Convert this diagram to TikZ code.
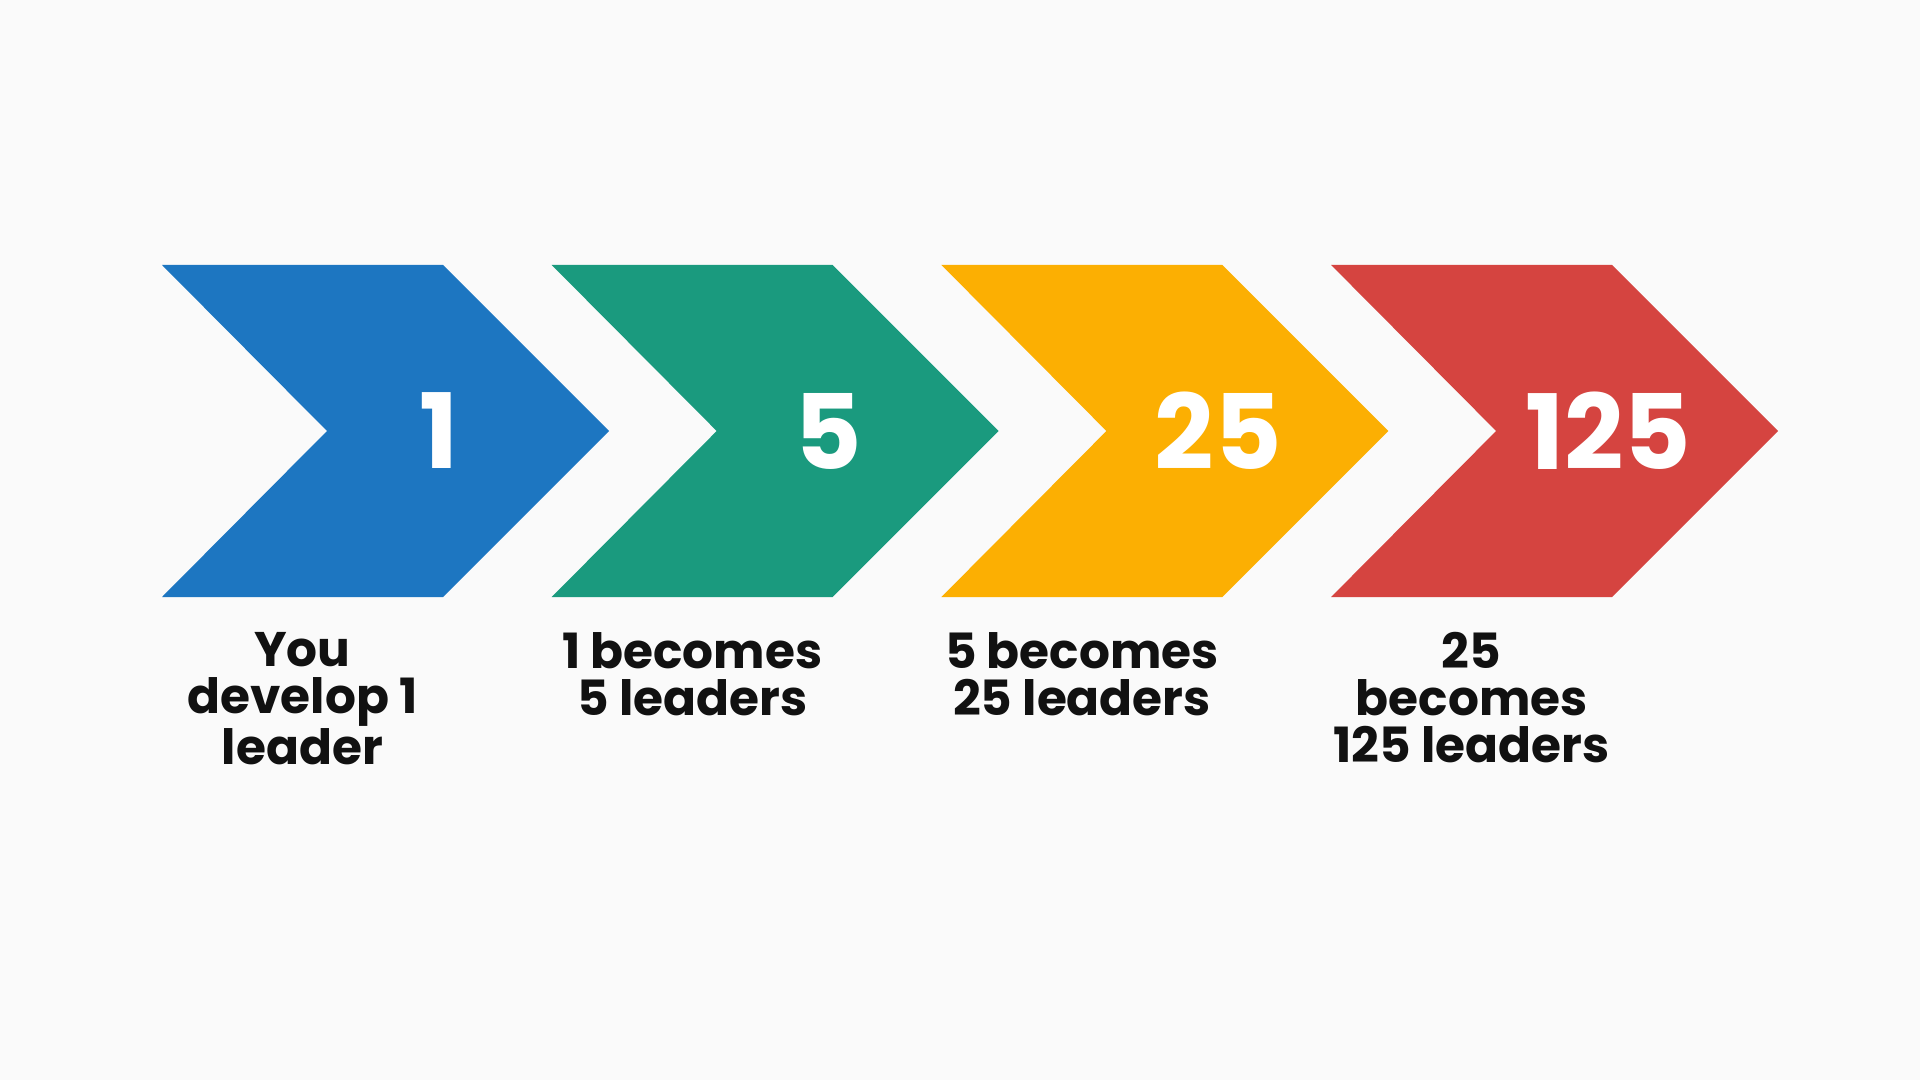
\documentclass[tikz,border=0pt]{standalone}
\usepackage{fontspec}
\setmainfont{Poppins}
\definecolor{bggray}{HTML}{FAFAFA}
\definecolor{stepblue}{HTML}{1D76C1}
\definecolor{stepgreen}{HTML}{1A9A7E}
\definecolor{stepyellow}{HTML}{FCAF02}
\definecolor{stepred}{HTML}{D54440}
\definecolor{captext}{HTML}{111111}
\tikzset{
  bignum/.style={text=white, inner sep=0pt, font=\fontsize{52}{52}\selectfont\bfseries},
  caption/.style={align=center, anchor=north, inner sep=0pt, text=captext, font=\fontsize{24.3}{23.5}\selectfont\bfseries}
}
\begin{document}
\begin{tikzpicture}[x=0.5pt,y=-0.5pt]
  % background
  \fill[bggray] (0,0) rectangle (1920,1080);
  \useasboundingbox (0,0) rectangle (1920,1080);
  % chevrons, numbers and captions
  \foreach \i/\col/\num/\txt in {0/stepblue/1/{You\\develop 1\\leader},
                                 1/stepgreen/5/{1 becomes\\5 leaders},
                                 2/stepyellow/25/{5 becomes\\25 leaders},
                                 3/stepred/125/{25\\becomes\\125 leaders}}{
    \pgfmathsetmacro{\L}{162+389.7*\i}
    \fill[\col] (\L,265) -- ++(281,0) -- ++(166,166) -- ++(-166,166) -- ++(-281,0) -- ++(165,-166) -- cycle;
    \node[bignum] (num\i) at (\L+277,431) {\num};
    \node[caption] (cap\i) at (\L+140.5,632) {\txt};
  }
\end{tikzpicture}
\end{document}
